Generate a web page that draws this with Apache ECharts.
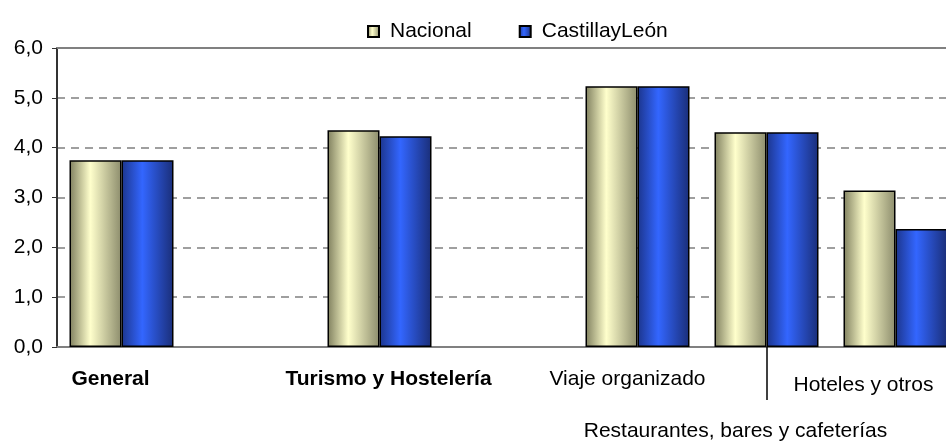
<!DOCTYPE html>
<html>
<head>
<meta charset="utf-8">
<script src="https://cdn.jsdelivr.net/npm/echarts@6/dist/echarts.min.js"></script>
<style>
  html, body { margin: 0; padding: 0; background: #fff; }
  #chart { width: 946px; height: 442px; }
</style>
</head>
<body>
<div id="chart"></div>
<script>
// categorias (huecos vacios para separar los grupos)
const categories = ["General", "", "Turismo y Hostelería", "", "Viaje organizado", "Restaurantes, bares y cafeterías", "Hoteles y otros"];
const nacional = [3.75, null, 4.35, null, 5.23, 4.31, 3.14];
const castillaLeon = [3.75, null, 4.23, null, 5.23, 4.31, 2.37];
const yTicks = [0, 1, 2, 3, 4, 5, 6];

const chart = echarts.init(document.getElementById("chart"));

const font = "Liberation Sans, Arial, sans-serif";

function grad(dark, light, dark2) {
  return new echarts.graphic.LinearGradient(0, 0, 1, 0, [
    { offset: 0, color: dark },
    { offset: 0.4, color: light },
    { offset: 1, color: dark2 },
  ]);
}

// estilo de cada etiqueta del eje x
const labelStyles = ["gen", "", "tur", "", "norm", "low", "hot"];

const option = {
  animation: false,
  textStyle: { fontFamily: font },
  legend: {
    top: 16,
    left: 362,
    itemWidth: 11,
    itemHeight: 11,
    itemGap: 47,
    icon: "rect",
    textStyle: { fontSize: 21, color: "#000", fontFamily: font, padding: [0, 0, 0, 6] },
    data: ["Nacional", "CastillayLeón"],
  },
  grid: { left: 57, top: 48, width: 903, height: 299, outerBoundsMode: "none", containLabel: false },
  xAxis: [
    {
      type: "category",
      data: categories,
      axisLine: { lineStyle: { color: "#808080", width: 2 } },
      axisTick: {
        show: true,
        alignWithLabel: true,
        interval: (i) => i === 5,
        length: 53,
        lineStyle: { color: "#000", width: 1.5 },
      },
      axisLabel: {
        interval: 0,
        margin: 22,
        formatter: (v, i) => (v ? "{" + labelStyles[i] + "|" + v + "}" : ""),
        rich: {
          gen: { fontSize: 21, fontWeight: "bold", color: "#000", fontFamily: font, padding: [0, 22, 0, 0] },
          tur: { fontSize: 21, fontWeight: "bold", color: "#000", fontFamily: font, padding: [0, 0, 0, 18] },
          norm: { fontSize: 21, color: "#000", fontFamily: font, padding: [0, 20, 0, 0] },
          low: { fontSize: 21, color: "#000", fontFamily: font, padding: [52, 62, 0, 0] },
          hot: { fontSize: 21, color: "#000", fontFamily: font, padding: [6, 64, 0, 0] },
        },
      },
    },
    {
      // borde superior solido
      type: "category",
      position: "top",
      data: categories,
      axisLine: { lineStyle: { color: "#808080", width: 2 } },
      axisTick: { show: false },
      axisLabel: { show: false },
    },
  ],
  yAxis: {
    type: "value",
    min: 0,
    max: 6,
    interval: 1,
    axisLine: { show: true, lineStyle: { color: "#333", width: 2 } },
    axisTick: { show: true, length: 5, lineStyle: { color: "#333" } },
    axisLabel: {
      fontSize: 21,
      color: "#000",
      margin: 14,
      formatter: (v) => (yTicks.includes(v) ? v.toFixed(1).replace(".", ",") : ""),
    },
    splitLine: { lineStyle: { color: "#808080", type: [8, 6], width: 1.5 } },
  },
  series: [
    {
      name: "Nacional",
      type: "bar",
      data: nacional,
      barWidth: 52,
      barGap: "0%",
      itemStyle: {
        color: grad("#7f7f5e", "#ffffcc", "#8c8c6c"),
        borderColor: "#000",
        borderWidth: 1.5,
      },
    },
    {
      name: "CastillayLeón",
      type: "bar",
      data: castillaLeon,
      barWidth: 52,
      itemStyle: {
        color: grad("#1c358c", "#3366ff", "#1a2e78"),
        borderColor: "#000",
        borderWidth: 1.5,
      },
    },
  ],
};

chart.setOption(option);
</script>
</body>
</html>
